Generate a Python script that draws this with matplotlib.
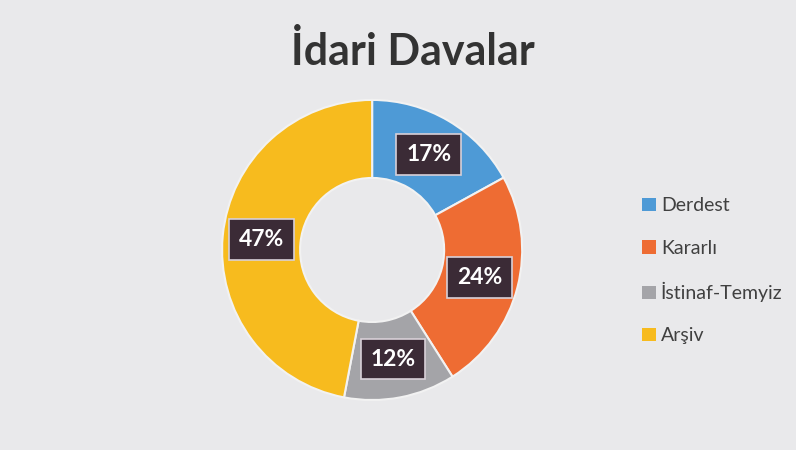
import matplotlib
matplotlib.use("Agg")
import matplotlib.pyplot as plt
from matplotlib.patches import Patch

categories = ["Derdest", "Kararlı", "İstinaf-Temyiz", "Arşiv"]
values = [17, 24, 12, 47]
colors = ["#4e9ad6", "#ee6c33", "#a4a4a8", "#f7bb1e"]
title = "İdari Davalar"

plt.rcParams['font.family'] = ['Lato', 'DejaVu Sans']

fig = plt.figure(figsize=(7.96, 4.5), dpi=100)
fig.patch.set_facecolor("#e9e9eb")

ax = fig.add_axes([0.279, 0.111, 0.377, 0.667])
ax.set_facecolor("none")
wedges, texts, autotexts = ax.pie(
    values, colors=colors, startangle=90, counterclock=False,
    radius=1.0, wedgeprops=dict(width=0.52, edgecolor="#f2f2f2", linewidth=1.5),
    autopct=lambda p: f"{p:.0f}%", pctdistance=0.74,
    textprops=dict(color="white", fontsize=16.5, fontweight="bold"))
for t in autotexts:
    t.set_bbox(dict(boxstyle="square,pad=0.42", facecolor="#3b2b36",
                    edgecolor="#d8d0d8", linewidth=1.2))
ax.set_xlim(-1, 1)
ax.set_ylim(-1, 1)
ax.set_aspect("equal")
ax.axis("off")

fig.text(0.519, 0.885, title, ha="center", va="center", fontsize=31,
         fontweight="bold", color="#333333")

handles = [Patch(facecolor=c, edgecolor="none") for c in colors]
leg = fig.legend(handles, categories, loc="center left",
                 bbox_to_anchor=(0.785, 0.398), frameon=False,
                 fontsize=14, labelspacing=1.3, handlelength=0.7,
                 handleheight=0.7, handletextpad=0.25)
for t in leg.get_texts():
    t.set_color("#404040")

fig.savefig("out.png", dpi=100, facecolor=fig.get_facecolor())
